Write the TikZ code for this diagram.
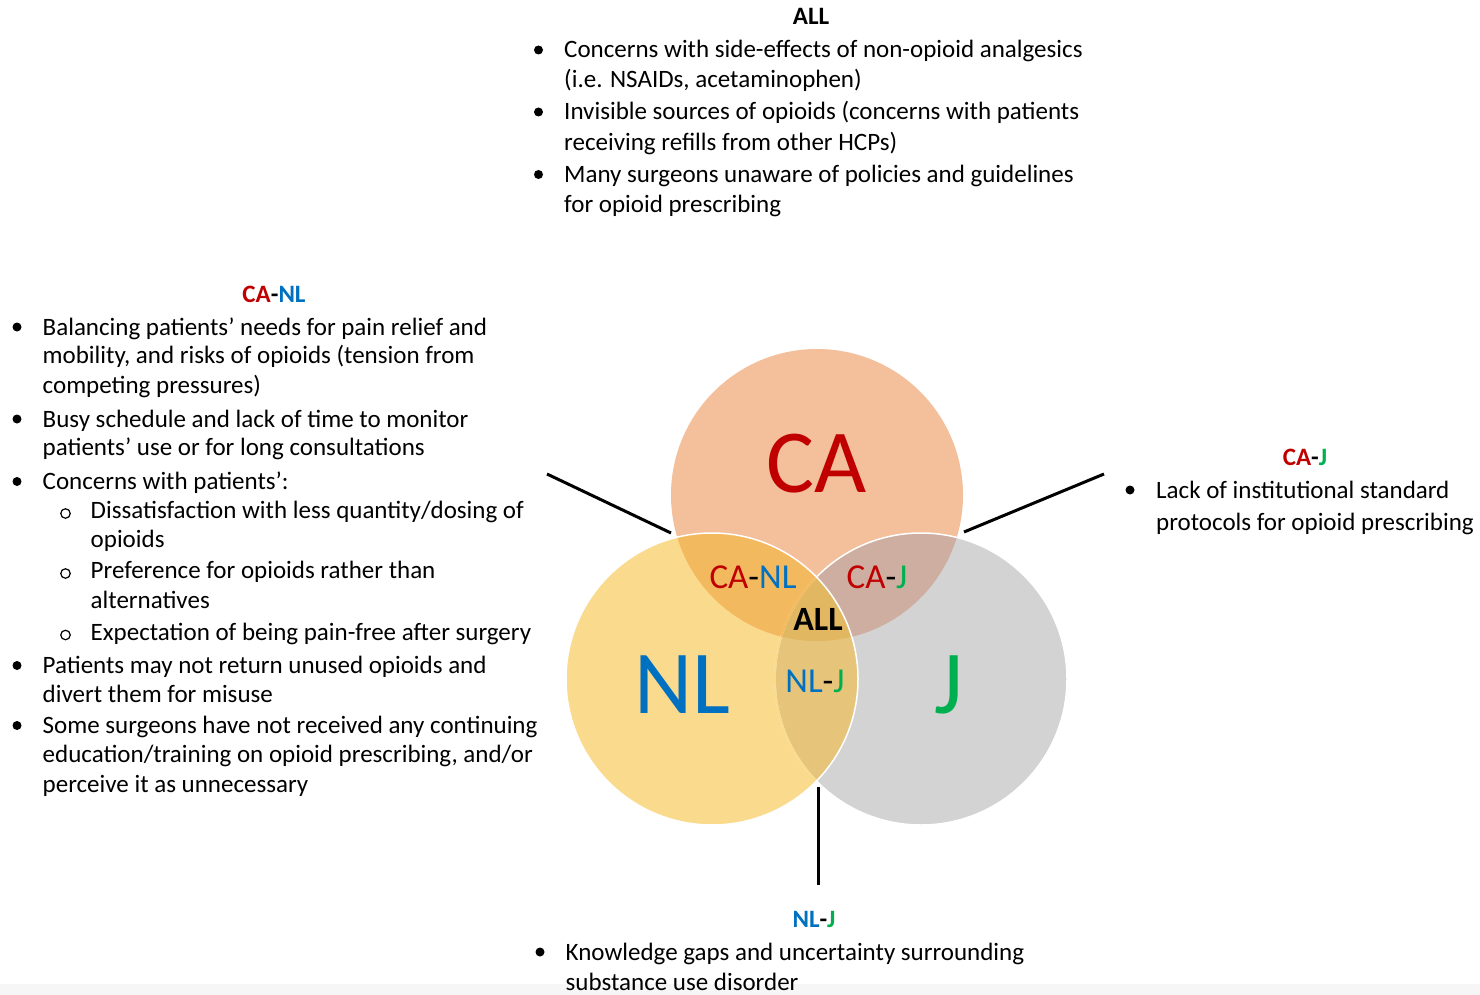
\documentclass[tikz,border=0pt]{standalone}
\usepackage{fontspec}
\setmainfont{Carlito}
\definecolor{caF}{RGB}{244,191,155}
\definecolor{nlF}{RGB}{250,218,140}
\definecolor{jF}{RGB}{211,211,211}
\definecolor{canlF}{RGB}{243,185,95}
\definecolor{cajF}{RGB}{205,174,160}
\definecolor{nljF}{RGB}{230,196,122}
\definecolor{allF}{RGB}{225,183,98}
\definecolor{stripF}{RGB}{246,246,246}
\definecolor{cRed}{RGB}{192,0,0}
\definecolor{cBlue}{RGB}{0,112,192}
\definecolor{cGreen}{RGB}{0,176,80}
\newcommand{\CAx}{\textcolor{cRed}{CA}}
\newcommand{\NLx}{\textcolor{cBlue}{NL}}
\newcommand{\Jx}{\textcolor{cGreen}{J}}
\begin{document}
\begin{tikzpicture}[x=1pt,y=-1pt,
  txt/.style={anchor=base west,inner sep=0pt,font=\fontsize{25}{30}\selectfont},
  hdr/.style={anchor=base,inner sep=0pt,font=\fontsize{25}{30}\selectfont\bfseries},
  biglbl/.style={anchor=base,inner sep=0pt,font=\fontsize{90}{100}\selectfont},
  midlbl/.style={anchor=base,inner sep=0pt,font=\fontsize{35}{40}\selectfont},
  bul/.style={circle,fill=black,inner sep=0pt,minimum size=9pt},
  subbul/.style={circle,draw=black,line width=1.2pt,inner sep=0pt,minimum size=9.5pt},
  conn/.style={line width=3pt,black}]
\useasboundingbox (0,0) rectangle (1480,995);
\fill[white] (0,0) rectangle (1480,995);
\fill[stripF] (0,984) rectangle (1480,995);

% Venn circles
\coordinate (cC) at (817,495);
\coordinate (cN) at (712,679);
\coordinate (cJ) at (921,679);
\fill[caF] (cC) circle (146);
\fill[jF] (cJ) circle (146);
\fill[nlF] (cN) circle (146);
\begin{scope}
  \clip (cC) circle (146);
  \fill[canlF] (cN) circle (146);
  \fill[cajF] (cJ) circle (146);
\end{scope}
\begin{scope}
  \clip (cN) circle (146);
  \fill[nljF] (cJ) circle (146);
\end{scope}
\begin{scope}
  \clip (cC) circle (146);
  \clip (cN) circle (146);
  \fill[allF] (cJ) circle (146);
\end{scope}
\draw[white,line width=1.5pt] (cJ) circle (146);
\begin{scope}
  \clip (cN) circle (146);
  \draw[nlF,line width=1.8pt] (cJ) circle (146);
  \clip (cC) circle (146);
  \draw[canlF,line width=1.8pt] (cJ) circle (146);
\end{scope}
\draw[white,line width=1.5pt] (cN) circle (146);

% Venn labels
\node[biglbl,text=cRed] (lCA) at (817,492) {CA};
\node[biglbl,text=cBlue] (lNL) at (682,713) {NL};
\node[biglbl,text=cGreen] (lJ) at (949,713) {J};
\node[midlbl] (lCANL) at (753,588) {\CAx-\NLx};
\node[midlbl] (lCAJ) at (877,588) {\CAx-\Jx};
\node[midlbl,font=\fontsize{34}{40}\selectfont\bfseries] (lALL) at (818,630) {ALL};
\node[midlbl] (lNLJ) at (815,692) {\NLx-\Jx};

% connectors
\coordinate (kL1) at (547,474);
\coordinate (kL2) at (671,533);
\coordinate (kR1) at (1104,474);
\coordinate (kR2) at (964,532);
\coordinate (kB1) at (818,787);
\coordinate (kB2) at (818,885);
\draw[conn] (kL1) -- (kL2);
\draw[conn] (kR1) -- (kR2);
\draw[conn] (kB1) -- (kB2);

% ALL block
\node[hdr] (hALL) at (811,25) {ALL};
\node[bul] (bA1) at (538.5,50) {};
\node[txt] (tA1) at (564,58) {Concerns with side-effects of non-opioid analgesics};
\node[txt] (tA2) at (564,88) {(i.e. NSAIDs, acetaminophen)};
\node[bul] (bA2) at (538.5,112) {};
\node[txt] (tA3) at (564,120) {Invisible sources of opioids (concerns with patients};
\node[txt] (tA4) at (564,150.5) {receiving refills from other HCPs)};
\node[bul] (bA3) at (538.5,174.5) {};
\node[txt] (tA5) at (564,182.5) {Many surgeons unaware of policies and guidelines};
\node[txt] (tA6) at (564,212.5) {for opioid prescribing};

% CA-NL block
\node[hdr] (hCANL) at (274,302) {\CAx-\NLx};
\node[bul] (bL1) at (17,327) {};
\node[txt] (tL1) at (42.5,335) {Balancing patients’ needs for pain relief and};
\node[txt] (tL2) at (42.5,363.5) {mobility, and risks of opioids (tension from};
\node[txt] (tL3) at (42.5,393.5) {competing pressures)};
\node[bul] (bL2) at (17,419) {};
\node[txt] (tL4) at (42.5,427) {Busy schedule and lack of time to monitor};
\node[txt] (tL5) at (42.5,455) {patients’ use or for long consultations};
\node[bul] (bL3) at (17,481.5) {};
\node[txt] (tL6) at (42.5,489.5) {Concerns with patients’:};
\node[subbul] (sL1) at (65.5,513.5) {};
\node[txt] (tL7) at (90.5,518.5) {Dissatisfaction with less quantity/dosing of};
\node[txt] (tL8) at (90.5,547.5) {opioids};
\node[subbul] (sL2) at (65.5,573.5) {};
\node[txt] (tL9) at (90.5,578.5) {Preference for opioids rather than};
\node[txt] (tL10) at (90.5,608.5) {alternatives};
\node[subbul] (sL3) at (65.5,635) {};
\node[txt] (tL11) at (90.5,640) {Expectation of being pain-free after surgery};
\node[bul] (bL4) at (17,665.5) {};
\node[txt] (tL12) at (42.5,673.5) {Patients may not return unused opioids and};
\node[txt] (tL13) at (42.5,702) {divert them for misuse};
\node[bul] (bL5) at (17,725.5) {};
\node[txt] (tL14) at (42.5,733.5) {Some surgeons have not received any continuing};
\node[txt] (tL15) at (42.5,762) {education/training on opioid prescribing, and/or};
\node[txt] (tL16) at (42.5,792) {perceive it as unnecessary};

% CA-J block
\node[hdr] (hCAJ) at (1305,465) {\CAx-\Jx};
\node[bul] (bR1) at (1130,490) {};
\node[txt] (tR1) at (1156,498) {Lack of institutional standard};
\node[txt] (tR2) at (1156,530) {protocols for opioid prescribing};

% NL-J block
\node[hdr] (hNLJ) at (814,927.5) {\NLx-\Jx};
\node[bul] (bB1) at (540,952) {};
\node[txt] (tB1) at (565.5,960) {Knowledge gaps and uncertainty surrounding};
\node[txt] (tB2) at (565.5,990.5) {substance use disorder};
\end{tikzpicture}
\end{document}
